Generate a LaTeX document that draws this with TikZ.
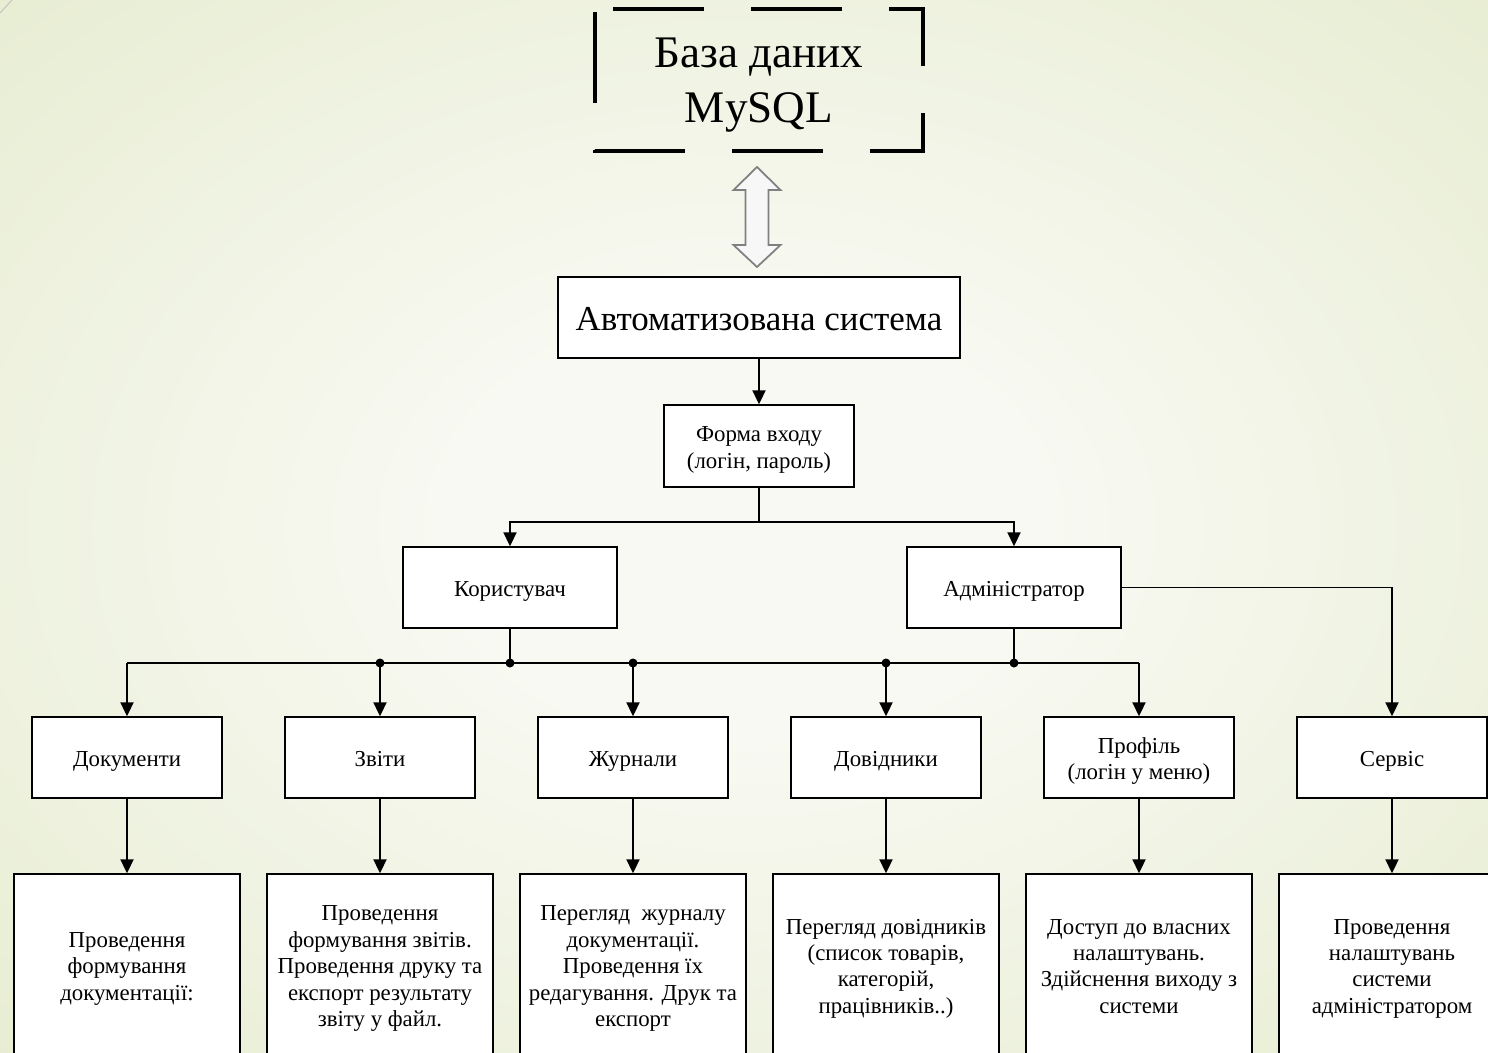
\documentclass[tikz,border=0pt]{standalone}
\usepackage{xcolor}
\usepackage{fontspec}
\setmainfont{Liberation Serif}
\usepackage{tikz}
\usetikzlibrary{arrows.meta}
\usetikzlibrary{positioning}
\definecolor{bginner}{HTML}{F8F9F2}
\definecolor{bgouter}{HTML}{E7EDD2}
\definecolor{linkgray}{HTML}{808080}
\definecolor{linkfill}{HTML}{F7F7F7}
\pgfdeclareradialshading{bgglow}{\pgfpoint{0bp}{0bp}}{color(0bp)=(bginner); color(10bp)=(bginner); color(36bp)=(bgouter); color(50bp)=(bgouter)}
\newcommand{\wstrut}{\rule[-0.216em]{0pt}{0.891em}}
\newcommand{\lowstrut}{\rule[-0.216em]{0pt}{1.2em}}
\newcommand{\topstrut}[1]{\rule{0pt}{#1}}
\tikzset{
  box/.style={draw, fill=white, line width=0.8pt, align=center, inner sep=0pt,
    font=\fontsize{13pt}{15pt}\selectfont,
    execute at begin node=\lowstrut, execute at end node=\wstrut},
  menubox/.style={box, minimum width=3.80cm, minimum height=1.62cm},
  taskbox/.style={box, minimum width=4.52cm, minimum height=3.68cm},
  dbbox/.style={align=center, inner sep=0pt, outer sep=0pt,
    minimum width=6.56cm, minimum height=2.84cm,
    font=\fontsize{25.7pt}{31.3pt}\selectfont,
    execute at end node=\wstrut},
  dbframe/.style={line width=2.3pt, dash pattern=on 1.82cm off 0.94cm, dash phase=2.70cm},
  dblink/.style={draw=linkgray, fill=linkfill, line width=1pt},
  conn/.style={line width=1.1pt, arrows={-Triangle[width=0.26cm, length=0.28cm]}},
  wire/.style={line width=1.1pt},
}
\begin{document}
\begin{tikzpicture}
\useasboundingbox (0,0) rectangle (29.76,-21.04);
\shade[shading=bgglow] (0,0) rectangle (29.76,-21.04);
\draw[gray!50, line width=0.5pt] (0,-0.26) -- (0.24,0);
\node[dbbox] (db) at (15.18,-1.60) {\topstrut{0.89em}База даних\\MySQL};
\draw[dbframe] (db.north west) -- (db.south west) -- (db.south east) -- (db.north east) -- cycle;
\draw[dblink, shift={(15.14,-4.34)}] (0,1.00) -- (0.47,0.54) -- (0.23,0.54) -- (0.23,-0.56) -- (0.47,-0.56) -- (0,-1.00) -- (-0.47,-0.56) -- (-0.23,-0.56) -- (-0.23,0.54) -- (-0.47,0.54) -- cycle;
\node[box, minimum width=8.04cm, minimum height=1.62cm, font=\fontsize{19.9pt}{23pt}\selectfont,
  execute at begin node=\wstrut] (sys) at (15.18,-6.35) {Автоматизована система};
\node[box, minimum width=3.80cm, minimum height=1.64cm] (login) at (15.18,-8.92) {\topstrut{1em}Форма входу\\(логін, пароль)};
\node[box, minimum width=4.28cm, minimum height=1.62cm] (user) at (10.20,-11.75) {Користувач};
\node[box, minimum width=4.28cm, minimum height=1.62cm] (admin) at (20.28,-11.75) {Адміністратор};
\node[menubox] (docs) at (2.54,-15.15) {Документи};
\node[menubox] (reports) at (7.60,-15.15) {Звіти};
\node[menubox] (journals) at (12.66,-15.15) {Журнали};
\node[menubox] (refs) at (17.72,-15.15) {Довідники};
\node[menubox] (prof) at (22.78,-15.15) {\topstrut{1em}Профіль\\(логін у меню)};
\node[menubox] (serv) at (27.84,-15.15) {Сервіс};
\node[taskbox] (docstask) at (2.54,-19.32) {\topstrut{0.89em}Проведення\\формування\\документації:};
\node[taskbox] (reportstask) at (7.60,-19.32) {\topstrut{0.89em}Проведення\\формування звітів.\\Проведення друку та\\експорт результату\\звіту у файл.};
\node[taskbox] (journalstask) at (12.66,-19.32) {\topstrut{0.89em}Перегляд\ \ журналу\\документації.\\Проведення їх\\редагування. Друк та\\експорт};
\node[taskbox] (refstask) at (17.72,-19.32) {\topstrut{0.89em}Перегляд довідників\\(список товарів,\\категорій,\\працівників..)};
\node[taskbox] (proftask) at (22.78,-19.32) {\topstrut{0.89em}Доступ до власних\\налаштувань.\\Здійснення виходу з\\системи};
\node[taskbox] (servtask) at (27.84,-19.32) {\topstrut{0.89em}Проведення\\налаштувань\\системи\\адміністратором};
\coordinate (bus) at (0,-13.26);
\draw[conn] (sys) -- (login);
\draw[conn] (login.south) -- ++(0,-0.68) -| (user.north);
\draw[conn] (login.south) -- ++(0,-0.68) -| (admin.north);
\draw[wire] (user.south) -- (user.south |- bus);
\draw[wire] (admin.south) -- (admin.south |- bus);
\draw[wire] (docs.north |- bus) -- (prof.north |- bus);
\foreach \n in {docs,reports,journals,refs,prof}
  \draw[conn] (\n.north |- bus) -- (\n.north);
\foreach \n in {reports,user,journals,refs,admin}
  \fill (\n.north |- bus) circle (0.09);
\draw[conn] (admin.east) -| (serv.north);
\foreach \a in {docs,reports,journals,refs,prof,serv}
  \draw[conn] (\a) -- (\a task);
\end{tikzpicture}
\end{document}
